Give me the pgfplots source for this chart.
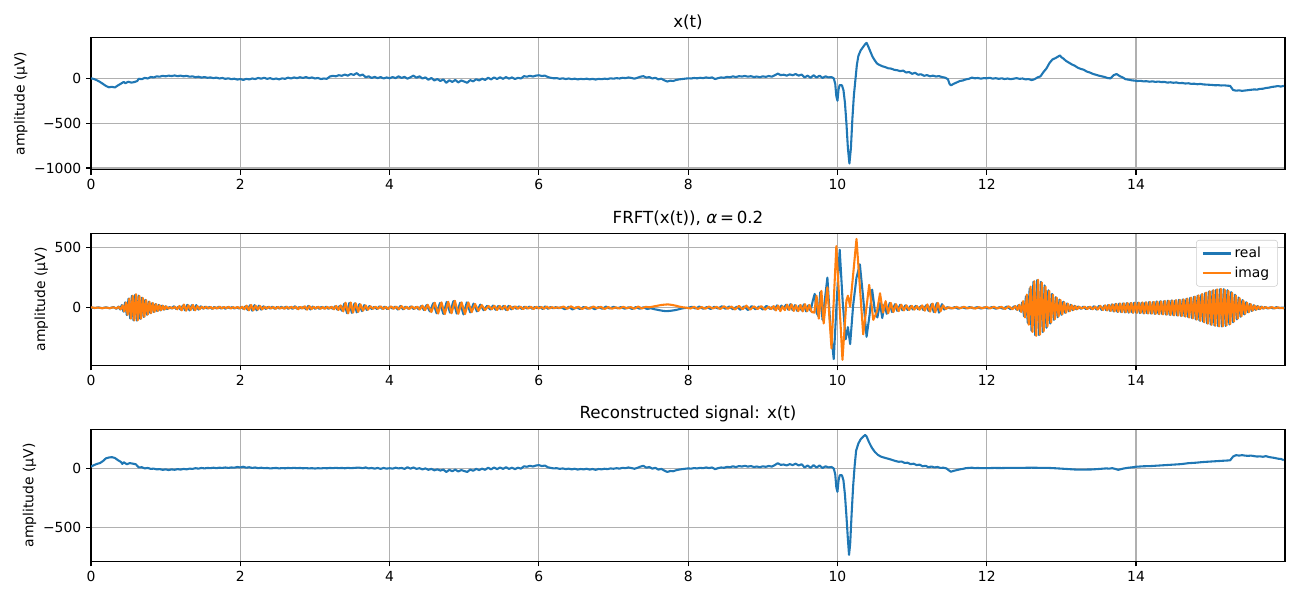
\documentclass[border=0pt]{standalone}
\usepackage{fontspec}
\setmainfont{DejaVu Sans}
\usepackage{pgfplots}
\pgfplotsset{compat=1.18}
\definecolor{mblue}{HTML}{1F77B4}
\definecolor{morange}{HTML}{FF7F0E}
\definecolor{mgrid}{HTML}{B0B0B0}
\definecolor{mleg}{HTML}{CCCCCC}
\pgfplotsset{
  mystyle/.style={
    scale only axis, width=859.7pt, height=95.2pt,
    xmin=0, xmax=15.996,
    xtick={0,2,4,6,8,10,12,14},
    xticklabels={0,2,4,6,8,10,12,14},
    grid=major, major grid style={mgrid, line width=0.8pt},
    axis line style={line width=0.8pt},
    tick style={black, line width=0.8pt},
    tick align=outside, major tick length=3.5pt,
    xtick pos=left, ytick pos=left,
    ticklabel style={font=\fontsize{10}{12}\selectfont},
    label style={font=\fontsize{10}{12}\selectfont},
    ylabel shift=-2pt,
    title style={font=\fontsize{12}{14}\selectfont, yshift=-4pt},
    ylabel={amplitude (µV)},
    every axis plot/.append style={line width=1.5pt, line join=round},
  }
}
\begin{document}
\begin{tikzpicture}
\path[use as bounding box] (0,0) rectangle (936pt,432pt);
% ---------- subplot 1 ----------
\begin{axis}[mystyle, at={(65.52pt,405pt)}, anchor=north west,
  title={x(t)}, ymin=-1019, ymax=455,
  ytick={-1000,-500,0}, yticklabels={−1000,−500,0}]
\addplot[mblue] table[row sep=\\]{x y\\
0.00 0\\ 0.04 -8\\ 0.08 -22\\ 0.12 -40\\ 0.16 -62\\ 0.20 -85\\ 0.24 -100\\ 0.28 -95\\ 0.32 -102\\ 0.36 -80\\
0.40 -60\\ 0.44 -40\\ 0.46 -55\\ 0.50 -38\\ 0.54 -48\\ 0.58 -42\\ 0.62 -30\\ 0.64 -5\\ 0.68 -10\\ 0.72 5\\
0.76 -2\\ 0.80 15\\ 0.84 10\\ 0.88 22\\ 0.92 18\\ 0.96 28\\ 1.00 22\\ 1.04 30\\ 1.08 25\\ 1.12 32\\
1.16 24\\ 1.20 30\\ 1.24 22\\ 1.28 28\\ 1.32 18\\ 1.36 22\\ 1.40 12\\ 1.44 18\\ 1.48 8\\ 1.52 14\\
1.56 6\\ 1.60 10\\ 1.64 2\\ 1.68 8\\ 1.72 -2\\ 1.76 4\\ 1.80 -6\\ 1.84 0\\ 1.88 -10\\ 1.92 -4\\
1.96 -14\\ 2.00 -8\\ 2.04 -18\\ 2.08 -6\\ 2.12 -12\\ 2.16 -2\\ 2.20 -8\\ 2.24 4\\ 2.28 -4\\ 2.32 6\\
2.36 -6\\ 2.40 2\\ 2.44 -10\\ 2.48 -2\\ 2.52 -12\\ 2.56 0\\ 2.60 -6\\ 2.64 8\\ 2.68 -2\\ 2.72 10\\
2.76 2\\ 2.80 12\\ 2.84 4\\ 2.88 14\\ 2.92 2\\ 2.96 10\\ 3.00 -2\\ 3.04 4\\ 3.08 -8\\ 3.12 -2\\
3.16 -6\\ 3.20 20\\ 3.24 28\\ 3.28 22\\ 3.32 35\\ 3.36 28\\ 3.40 42\\ 3.44 30\\ 3.48 48\\ 3.52 38\\
3.56 58\\ 3.60 30\\ 3.64 42\\ 3.68 12\\ 3.72 22\\ 3.76 4\\ 3.80 16\\ 3.84 2\\ 3.88 14\\ 3.92 -2\\
3.96 10\\ 4.00 0\\ 4.04 14\\ 4.08 2\\ 4.12 22\\ 4.16 4\\ 4.20 16\\ 4.24 -4\\ 4.28 12\\ 4.32 30\\
4.36 6\\ 4.40 22\\ 4.44 -2\\ 4.48 10\\ 4.52 -16\\ 4.56 4\\ 4.60 -24\\ 4.64 -8\\ 4.68 -30\\ 4.72 -12\\
4.76 -50\\ 4.80 -22\\ 4.84 -40\\ 4.88 -18\\ 4.92 -46\\ 4.96 -24\\ 5.00 -36\\ 5.04 -50\\ 5.08 -20\\ 5.12 -34\\
5.16 -10\\ 5.20 -24\\ 5.24 -4\\ 5.28 -18\\ 5.32 6\\ 5.36 -12\\ 5.40 10\\ 5.44 -8\\ 5.48 12\\ 5.52 -6\\
5.56 14\\ 5.60 -4\\ 5.64 10\\ 5.68 -8\\ 5.72 6\\ 5.76 -2\\ 5.80 24\\ 5.84 18\\ 5.88 28\\ 5.92 20\\
5.96 30\\ 6.00 34\\ 6.04 26\\ 6.08 30\\ 6.12 14\\ 6.16 6\\ 6.20 0\\ 6.24 2\\ 6.28 -6\\ 6.32 0\\
6.36 -8\\ 6.40 -2\\ 6.44 -10\\ 6.48 -4\\ 6.52 -12\\ 6.56 -6\\ 6.60 -10\\ 6.64 -4\\ 6.68 -12\\ 6.72 -6\\
6.76 -14\\ 6.80 -6\\ 6.84 -10\\ 6.88 -4\\ 6.92 -8\\ 6.96 0\\ 7.00 -4\\ 7.04 2\\ 7.08 -2\\ 7.12 6\\
7.16 2\\ 7.20 10\\ 7.24 4\\ 7.28 -4\\ 7.32 6\\ 7.36 18\\ 7.40 24\\ 7.44 8\\ 7.48 14\\ 7.52 -2\\
7.56 6\\ 7.60 -12\\ 7.64 -4\\ 7.68 -22\\ 7.72 -36\\ 7.76 -26\\ 7.80 -30\\ 7.84 -18\\ 7.88 -12\\ 7.92 -8\\
7.96 -4\\ 8.00 0\\ 8.04 -2\\ 8.08 4\\ 8.12 0\\ 8.16 6\\ 8.20 2\\ 8.24 10\\ 8.28 4\\ 8.32 10\\
8.36 -8\\ 8.40 2\\ 8.44 10\\ 8.48 6\\ 8.52 16\\ 8.56 12\\ 8.60 22\\ 8.64 14\\ 8.68 24\\ 8.72 20\\
8.76 26\\ 8.80 18\\ 8.84 24\\ 8.88 14\\ 8.92 20\\ 8.96 12\\ 9.00 22\\ 9.04 16\\ 9.08 26\\ 9.12 18\\
9.16 34\\ 9.20 52\\ 9.24 36\\ 9.28 40\\ 9.32 30\\ 9.36 44\\ 9.40 34\\ 9.44 48\\ 9.48 30\\ 9.52 42\\
9.56 10\\ 9.60 30\\ 9.64 6\\ 9.68 34\\ 9.72 8\\ 9.76 30\\ 9.80 4\\ 9.84 22\\ 9.88 10\\ 9.92 14\\
9.95 0\\ 9.97 -60\\ 9.985 -200\\ 10.00 -250\\ 10.015 -120\\ 10.03 -75\\ 10.06 -78\\ 10.08 -130\\ 10.10 -270\\ 10.12 -500\\
10.14 -780\\ 10.16 -950\\ 10.18 -780\\ 10.20 -450\\ 10.22 -190\\ 10.24 -20\\ 10.26 150\\ 10.28 250\\ 10.31 310\\ 10.34 345\\
10.37 380\\ 10.39 395\\ 10.41 360\\ 10.44 300\\ 10.47 240\\ 10.50 200\\ 10.53 165\\ 10.56 150\\ 10.60 135\\ 10.64 125\\
10.68 112\\ 10.72 108\\ 10.76 95\\ 10.80 90\\ 10.84 80\\ 10.88 86\\ 10.92 65\\ 10.96 70\\ 11.00 50\\ 11.04 62\\
11.08 40\\ 11.12 45\\ 11.16 28\\ 11.20 36\\ 11.24 22\\ 11.28 30\\ 11.32 20\\ 11.36 25\\ 11.40 14\\ 11.44 8\\
11.48 -10\\ 11.50 -60\\ 11.52 -78\\ 11.56 -60\\ 11.60 -45\\ 11.64 -30\\ 11.68 -24\\ 11.72 -12\\ 11.76 -6\\ 11.80 8\\
11.84 0\\ 11.88 4\\ 11.92 -4\\ 11.96 2\\ 12.00 0\\ 12.04 6\\ 12.08 -4\\ 12.12 2\\ 12.16 -6\\ 12.20 0\\
12.24 -8\\ 12.28 -2\\ 12.32 -10\\ 12.36 -4\\ 12.40 2\\ 12.44 -6\\ 12.48 -2\\ 12.52 -12\\ 12.56 -8\\ 12.60 -20\\
12.64 -10\\ 12.68 10\\ 12.72 22\\ 12.76 70\\ 12.80 110\\ 12.84 170\\ 12.88 210\\ 12.92 225\\ 12.96 245\\ 12.98 255\\
13.00 235\\ 13.03 218\\ 13.06 195\\ 13.10 175\\ 13.14 155\\ 13.18 140\\ 13.22 118\\ 13.26 105\\ 13.30 95\\ 13.34 75\\
13.38 65\\ 13.42 50\\ 13.46 40\\ 13.50 30\\ 13.54 22\\ 13.58 15\\ 13.62 2\\ 13.66 0\\ 13.70 35\\ 13.74 48\\
13.78 25\\ 13.82 10\\ 13.86 -10\\ 13.90 -15\\ 13.94 -22\\ 13.98 -26\\ 14.02 -30\\ 14.06 -28\\ 14.10 -34\\ 14.14 -32\\
14.18 -38\\ 14.22 -34\\ 14.26 -40\\ 14.30 -36\\ 14.34 -42\\ 14.38 -40\\ 14.42 -48\\ 14.46 -44\\ 14.50 -50\\ 14.54 -46\\
14.58 -54\\ 14.62 -52\\ 14.66 -58\\ 14.70 -55\\ 14.74 -62\\ 14.78 -60\\ 14.82 -66\\ 14.86 -62\\ 14.90 -68\\ 14.94 -70\\
14.98 -72\\ 15.02 -74\\ 15.06 -78\\ 15.10 -76\\ 15.14 -80\\ 15.18 -78\\ 15.22 -82\\ 15.26 -84\\ 15.30 -130\\ 15.34 -138\\
15.38 -134\\ 15.42 -140\\ 15.46 -136\\ 15.50 -132\\ 15.54 -128\\ 15.58 -124\\ 15.62 -126\\ 15.66 -118\\ 15.70 -116\\ 15.74 -108\\
15.78 -104\\ 15.82 -96\\ 15.86 -92\\ 15.90 -86\\ 15.94 -92\\ 15.98 -84\\
};
\end{axis}
% ---------- subplot 2 ----------
\begin{axis}[mystyle, at={(65.52pt,264.0pt)}, anchor=north west,
  title={FRFT(x(t)), \textit{α}\,=\,0.2}, ymin=-478, ymax=616,
  ytick={0,500}, yticklabels={0,500},
  legend style={at={(0.994,0.95)}, anchor=north east, draw=mleg, rounded corners=2pt,
    fill=white, fill opacity=0.8, text opacity=1, font=\fontsize{10}{12}\selectfont,
    inner xsep=4pt, inner ysep=3pt, row sep=1pt},
  legend cell align=left,
  legend image code/.code={\draw[#1] (0pt,0pt) -- (20pt,0pt);}]
\addplot[mblue] table[row sep=\\]{x y\\
0.00 2\\ 0.05 -2\\ 0.10 3\\ 0.15 -3\\ 0.20 4\\ 0.25 -4\\ 0.30 6\\ 0.34 -8\\ 0.37 10\\
0.39 -14\\ 0.4125 22\\ 0.435 -32\\ 0.4575 45\\ 0.48 -60\\ 0.5025 75\\ 0.525 -88\\ 0.5475 98\\ 0.57 -104\\ 0.5925 108\\
0.615 -106\\ 0.6375 100\\ 0.66 -92\\ 0.6825 84\\ 0.705 -75\\ 0.7275 66\\ 0.75 -58\\ 0.7725 50\\ 0.795 -44\\ 0.8175 38\\
0.84 -34\\ 0.8625 30\\ 0.885 -27\\ 0.9075 24\\ 0.93 -21\\ 0.9525 18\\ 0.975 -15\\ 0.9975 12\\ 1.02 -10\\ 1.05 6\\
1.08 -6\\ 1.11 12\\ 1.14 -9\\ 1.17 8\\ 1.20 -15\\ 1.23 18\\ 1.26 -21\\ 1.29 24\\ 1.32 -22\\ 1.35 21\\
1.38 -18\\ 1.41 22\\ 1.44 -15\\ 1.47 12\\ 1.50 -8\\ 1.53 9\\ 1.56 -6\\ 1.59 8\\ 1.62 -9\\ 1.65 6\\
1.68 -5\\ 1.71 8\\ 1.74 -6\\ 1.77 5\\ 1.80 -8\\ 1.83 6\\ 1.86 -3\\ 1.89 5\\ 1.92 -6\\ 1.95 3\\
1.98 -5\\ 2.01 6\\ 2.04 -9\\ 2.07 12\\ 2.10 -18\\ 2.13 21\\ 2.16 -24\\ 2.19 22\\ 2.22 -21\\ 2.25 18\\
2.28 -15\\ 2.31 12\\ 2.34 -9\\ 2.37 8\\ 2.40 -6\\ 2.43 9\\ 2.46 -8\\ 2.49 6\\ 2.52 -5\\ 2.55 8\\
2.58 -6\\ 2.61 9\\ 2.64 -8\\ 2.67 6\\ 2.70 -9\\ 2.73 12\\ 2.76 -8\\ 2.79 6\\ 2.82 -5\\ 2.85 9\\
2.88 -12\\ 2.91 15\\ 2.94 -14\\ 2.97 10\\ 3.00 -8\\ 3.03 6\\ 3.06 -9\\ 3.09 8\\ 3.12 -6\\ 3.15 9\\
3.18 -8\\ 3.21 6\\ 3.24 -9\\ 3.27 12\\ 3.30 -15\\
3.33 15\\ 3.36 -24\\ 3.395 35\\ 3.43 -45\\ 3.46 40\\ 3.495 -42\\ 3.53 36\\ 3.56 -38\\ 3.595 30\\ 3.63 -28\\
3.66 22\\ 3.695 -18\\ 3.73 14\\ 3.76 -10\\
3.795 8\\ 3.83 -10\\ 3.865 12\\ 3.90 -8\\ 3.935 10\\ 3.97 -12\\ 4.005 9\\ 4.04 -7\\ 4.075 10\\ 4.11 -14\\
4.145 15\\ 4.18 -12\\ 4.215 10\\ 4.25 -8\\ 4.285 12\\ 4.32 -10\\ 4.355 8\\ 4.39 -12\\ 4.425 15\\ 4.46 -18\\ 4.495 22\\
4.54 -30\\ 4.585 38\\ 4.63 -45\\ 4.675 40\\ 4.72 -50\\ 4.765 48\\ 4.81 -40\\ 4.855 55\\ 4.90 -48\\ 4.945 42\\
4.99 -55\\ 5.035 45\\ 5.08 -38\\ 5.125 35\\ 5.17 -30\\ 5.215 26\\ 5.26 -20\\ 5.305 16\\ 5.35 -14\\
5.385 18\\ 5.42 -16\\ 5.455 14\\ 5.49 -12\\ 5.525 15\\ 5.56 -18\\ 5.595 16\\ 5.63 -12\\ 5.665 10\\ 5.70 -8\\
5.735 12\\ 5.77 -10\\ 5.805 8\\ 5.84 -6\\ 5.875 10\\ 5.91 -8\\ 5.945 6\\ 5.98 -4\\ 6.015 8\\ 6.05 -10\\
6.085 12\\ 6.12 -8\\ 6.155 6\\ 6.19 -4\\ 6.225 5\\ 6.26 -3\\ 6.295 4\\
6.35 -12\\ 6.40 8\\ 6.45 -14\\ 6.50 4\\ 6.55 -10\\ 6.60 6\\ 6.65 -8\\ 6.70 4\\ 6.75 -12\\ 6.80 6\\
6.85 -8\\ 6.90 10\\ 6.95 -6\\ 7.00 8\\ 7.05 -4\\ 7.10 6\\ 7.15 -8\\ 7.20 4\\ 7.25 -10\\ 7.30 6\\
7.35 -8\\ 7.40 4\\ 7.45 -10\\ 7.50 -4\\
7.55 -12\\ 7.60 -18\\ 7.65 -24\\ 7.70 -28\\ 7.75 -26\\ 7.80 -22\\ 7.85 -16\\ 7.90 -8\\ 7.95 -2\\ 8.00 0\\
8.05 8\\ 8.10 -6\\ 8.15 10\\ 8.20 -8\\ 8.25 6\\ 8.30 -10\\ 8.35 8\\ 8.40 -6\\ 8.45 12\\ 8.50 -8\\
8.55 10\\ 8.60 -12\\ 8.65 8\\ 8.70 -16\\ 8.75 12\\ 8.80 -18\\ 8.85 14\\ 8.90 -12\\ 8.95 10\\ 9.00 -14\\
9.05 16\\ 9.10 -10\\
9.13 8\\ 9.16 -15\\ 9.19 20\\ 9.22 -12\\ 9.25 18\\ 9.28 -8\\ 9.31 25\\ 9.34 -15\\ 9.37 30\\ 9.40 -20\\
9.43 22\\ 9.46 -25\\ 9.49 18\\ 9.52 -22\\ 9.55 28\\ 9.58 -30\\ 9.61 20\\ 9.64 -25\\
9.67 60\\ 9.695 115\\ 9.72 -40\\ 9.745 -70\\ 9.77 130\\ 9.80 -100\\ 9.83 60\\ 9.865 250\\ 9.905 -150\\ 9.95 -425\\
9.99 60\\ 10.03 480\\ 10.07 50\\ 10.11 -260\\ 10.14 -160\\ 10.17 -300\\ 10.21 20\\ 10.255 250\\ 10.30 360\\ 10.345 80\\
10.39 -240\\ 10.43 -60\\ 10.465 150\\ 10.50 -20\\ 10.535 -80\\ 10.57 40\\ 10.60 -85\\
10.63 30\\ 10.66 -50\\ 10.70 40\\ 10.73 -35\\ 10.77 30\\ 10.80 -25\\ 10.84 25\\ 10.87 -20\\ 10.91 20\\ 10.94 -18\\
10.98 15\\ 11.01 -14\\ 11.05 16\\ 11.08 -12\\ 11.12 14\\ 11.15 -18\\ 11.19 22\\ 11.22 -25\\ 11.26 30\\ 11.29 -35\\
11.33 38\\ 11.36 -40\\ 11.40 30\\ 11.43 -15\\ 11.47 5\\
11.52 -6\\ 11.57 5\\ 11.62 -8\\ 11.67 4\\ 11.72 -5\\ 11.77 6\\ 11.82 -4\\ 11.87 5\\ 11.92 -6\\ 11.97 4\\
12.02 -5\\ 12.07 6\\ 12.12 -8\\ 12.17 5\\ 12.22 -8\\ 12.27 10\\ 12.32 -12\\ 12.37 12\\
12.40 -15\\ 12.425 22\\ 12.45 -30\\ 12.475 45\\ 12.50 -70\\ 12.525 95\\ 12.55 -125\\ 12.575 160\\ 12.60 -190\\ 12.625 215\\
12.65 -228\\ 12.675 230\\ 12.70 -225\\ 12.725 215\\ 12.75 -200\\ 12.775 185\\ 12.80 -165\\ 12.825 145\\ 12.85 -130\\ 12.875 115\\
12.90 -100\\ 12.925 88\\ 12.95 -78\\ 12.975 68\\ 13.00 -58\\ 13.025 50\\ 13.05 -42\\ 13.075 36\\ 13.10 -30\\ 13.125 25\\
13.15 -20\\ 13.175 16\\ 13.20 -12\\ 13.225 10\\
13.26 -8\\ 13.295 10\\ 13.33 -12\\ 13.365 8\\ 13.40 -10\\ 13.435 12\\ 13.47 -14\\ 13.505 16\\ 13.54 -18\\ 13.575 18\\
13.60 -20\\ 13.625 22\\ 13.65 -25\\ 13.675 28\\ 13.70 -30\\ 13.725 32\\ 13.75 -34\\ 13.775 35\\ 13.80 -36\\ 13.825 36\\
13.85 -38\\ 13.875 38\\ 13.90 -40\\ 13.925 38\\ 13.95 -40\\ 13.975 42\\ 14.00 -40\\ 14.025 42\\ 14.05 -44\\ 14.075 42\\
14.10 -45\\ 14.125 44\\ 14.15 -46\\ 14.175 48\\ 14.20 -48\\ 14.225 46\\ 14.25 -50\\ 14.275 52\\ 14.30 -50\\ 14.325 54\\
14.35 -52\\ 14.375 55\\ 14.40 -56\\ 14.425 58\\ 14.45 -58\\ 14.475 60\\ 14.50 -62\\ 14.525 60\\ 14.55 -64\\ 14.575 66\\
14.60 -66\\ 14.625 68\\ 14.65 -70\\ 14.675 74\\ 14.70 -78\\ 14.725 82\\ 14.75 -86\\ 14.775 90\\ 14.80 -95\\ 14.825 100\\
14.85 -105\\ 14.875 110\\ 14.90 -116\\ 14.925 122\\ 14.95 -128\\ 14.975 134\\ 15.00 -138\\ 15.025 142\\ 15.05 -146\\ 15.075 150\\
15.10 -152\\ 15.125 155\\ 15.15 -155\\ 15.175 154\\ 15.20 -150\\ 15.225 145\\ 15.25 -138\\ 15.275 130\\ 15.30 -120\\ 15.325 108\\
15.35 -96\\ 15.375 85\\ 15.40 -74\\ 15.425 64\\ 15.45 -55\\ 15.475 46\\ 15.50 -38\\ 15.525 32\\ 15.55 -26\\ 15.575 21\\
15.60 -17\\ 15.625 14\\ 15.65 -11\\ 15.675 9\\ 15.70 -7\\ 15.725 6\\
15.76 -5\\ 15.80 4\\ 15.84 -6\\ 15.88 5\\ 15.92 -3\\ 15.96 2\\ 15.99 -1\\
};
\addlegendentry{real}
\addplot[morange] table[row sep=\\]{x y\\
0.00 4\\ 0.05 -1\\ 0.10 2\\ 0.15 -4\\ 0.20 2\\ 0.25 -3\\ 0.30 4\\ 0.34 -5\\ 0.37 8\\
0.40 -12\\ 0.4235 20\\ 0.446 -30\\ 0.4685 44\\ 0.491 -58\\ 0.5135 76\\ 0.536 -90\\ 0.5585 100\\ 0.581 -104\\ 0.6035 112\\
0.626 -104\\ 0.6485 98\\ 0.671 -90\\ 0.6935 82\\ 0.716 -74\\ 0.7385 64\\ 0.761 -56\\ 0.7835 50\\ 0.806 -44\\ 0.8285 40\\
0.851 -34\\ 0.8735 30\\ 0.896 -26\\ 0.9185 22\\ 0.941 -20\\ 0.9635 17\\ 0.986 -14\\ 1.0085 11\\ 1.035 -8\\ 1.065 5\\
1.095 -5\\ 1.125 9\\ 1.155 -12\\ 1.185 15\\ 1.215 -21\\ 1.245 27\\ 1.275 -24\\ 1.305 21\\ 1.335 -18\\ 1.365 24\\
1.395 -21\\ 1.425 15\\ 1.455 -12\\ 1.485 9\\ 1.515 -6\\ 1.545 8\\ 1.575 -5\\ 1.605 6\\ 1.635 -8\\ 1.665 5\\
1.695 -6\\ 1.725 9\\ 1.755 -5\\ 1.785 6\\ 1.815 -3\\ 1.845 8\\ 1.875 -6\\ 1.905 5\\ 1.935 -3\\ 1.965 6\\
1.995 -5\\ 2.025 9\\ 2.055 -12\\ 2.085 18\\ 2.115 -21\\ 2.145 24\\ 2.175 -21\\ 2.205 18\\ 2.235 -15\\ 2.265 14\\
2.295 -12\\ 2.325 9\\ 2.355 -6\\ 2.385 8\\ 2.415 -5\\ 2.445 6\\ 2.475 -9\\ 2.505 8\\ 2.535 -6\\ 2.565 5\\
2.595 -8\\ 2.625 9\\ 2.655 -6\\ 2.685 8\\ 2.715 -5\\ 2.745 9\\ 2.775 -12\\ 2.805 8\\ 2.835 -6\\ 2.865 12\\
2.895 -15\\ 2.925 14\\ 2.955 -10\\ 2.985 8\\ 3.015 -6\\ 3.045 9\\ 3.075 -8\\ 3.105 6\\ 3.135 -9\\ 3.165 8\\
3.195 -6\\ 3.225 9\\ 3.255 -12\\ 3.285 15\\ 3.315 -18\\
3.345 20\\ 3.38 -30\\ 3.41 42\\ 3.445 -46\\ 3.48 44\\ 3.51 -40\\ 3.545 38\\ 3.58 -34\\ 3.61 28\\ 3.645 -24\\
3.68 20\\ 3.71 -16\\ 3.745 12\\ 3.78 -9\\
3.81 10\\ 3.845 -8\\ 3.88 12\\ 3.915 -10\\ 3.95 8\\ 3.985 -10\\ 4.02 12\\ 4.055 -8\\ 4.09 10\\ 4.125 -12\\
4.16 14\\ 4.195 -10\\ 4.23 8\\ 4.265 -10\\ 4.30 12\\ 4.335 -8\\ 4.37 10\\ 4.405 -14\\ 4.44 18\\ 4.475 -20\\ 4.51 25\\
4.56 -35\\ 4.605 42\\ 4.65 -48\\ 4.695 45\\ 4.74 -52\\ 4.785 50\\ 4.83 -45\\ 4.875 58\\ 4.92 -50\\ 4.965 45\\
5.01 -52\\ 5.055 44\\ 5.10 -36\\ 5.145 32\\ 5.19 -26\\ 5.235 22\\ 5.28 -18\\ 5.325 15\\ 5.37 -12\\
5.405 16\\ 5.44 -18\\ 5.475 15\\ 5.51 -12\\ 5.545 16\\ 5.58 -20\\ 5.615 14\\ 5.65 -10\\ 5.685 12\\ 5.72 -8\\
5.755 10\\ 5.79 -12\\ 5.825 9\\ 5.86 -6\\ 5.895 8\\ 5.93 -10\\ 5.965 8\\ 6.00 -5\\ 6.035 6\\ 6.07 -8\\
6.105 10\\ 6.14 -6\\ 6.175 5\\ 6.21 -3\\ 6.245 4\\ 6.28 -2\\
6.33 10\\ 6.38 -8\\ 6.43 12\\ 6.48 -6\\ 6.53 8\\ 6.58 -10\\ 6.63 6\\ 6.68 -8\\ 6.73 10\\ 6.78 -4\\
6.83 8\\ 6.88 -10\\ 6.93 6\\ 6.98 -8\\ 7.03 4\\ 7.08 -6\\ 7.13 8\\ 7.18 -4\\ 7.23 6\\ 7.28 -8\\
7.33 10\\ 7.38 -6\\ 7.43 8\\ 7.48 4\\
7.53 10\\ 7.58 16\\ 7.63 22\\ 7.68 26\\ 7.73 28\\ 7.78 24\\ 7.83 18\\ 7.88 10\\ 7.93 4\\ 7.98 0\\
8.03 -6\\ 8.08 8\\ 8.13 -10\\ 8.18 6\\ 8.23 -8\\ 8.28 10\\ 8.33 -6\\ 8.38 8\\ 8.43 -10\\ 8.48 12\\
8.53 -8\\ 8.58 10\\ 8.63 -14\\ 8.68 16\\ 8.73 -12\\ 8.78 18\\ 8.83 -16\\ 8.88 12\\ 8.93 -10\\ 8.98 14\\
9.03 -16\\ 9.08 10\\
9.115 -10\\ 9.145 14\\ 9.175 -22\\ 9.205 18\\ 9.235 -28\\ 9.265 12\\ 9.295 -20\\ 9.325 26\\ 9.355 -18\\ 9.385 28\\
9.415 -26\\ 9.445 20\\ 9.475 -28\\ 9.505 24\\ 9.535 -30\\ 9.565 30\\ 9.595 -28\\ 9.625 24\\ 9.655 -35\\
9.69 -40\\ 9.72 100\\ 9.75 -90\\ 9.785 140\\ 9.815 -130\\ 9.865 170\\ 9.92 -335\\ 9.985 510\\ 10.067 -430\\ 10.12 60\\
10.14 100\\ 10.17 10\\ 10.255 570\\ 10.345 -220\\ 10.425 190\\ 10.48 -100\\ 10.53 -30\\ 10.57 120\\
10.61 -40\\ 10.645 55\\ 10.68 -45\\ 10.715 40\\ 10.75 -35\\ 10.785 30\\ 10.82 -28\\ 10.855 25\\ 10.89 -22\\ 10.925 20\\
10.96 -18\\ 10.995 16\\ 11.03 -15\\ 11.065 14\\ 11.10 -16\\ 11.135 20\\ 11.17 -24\\ 11.205 28\\ 11.24 -32\\ 11.275 35\\
11.31 -38\\ 11.345 40\\ 11.38 -30\\ 11.415 20\\ 11.45 -10\\ 11.49 4\\
11.545 -5\\ 11.595 7\\ 11.645 -4\\ 11.695 8\\ 11.745 -5\\ 11.795 4\\ 11.845 -7\\ 11.895 5\\ 11.945 -4\\ 11.995 7\\
12.045 -5\\ 12.095 8\\ 12.145 -6\\ 12.195 8\\ 12.245 -10\\ 12.295 12\\ 12.345 -12\\ 12.385 14\\
12.4125 -18\\ 12.4375 25\\ 12.4625 -35\\ 12.4875 55\\ 12.5125 -80\\ 12.5375 110\\ 12.5625 -140\\ 12.5875 175\\ 12.6125 -200\\ 12.6375 220\\
12.6625 -232\\ 12.6875 232\\ 12.7125 -222\\ 12.7375 210\\ 12.7625 -195\\ 12.7875 175\\ 12.8125 -155\\ 12.8375 140\\ 12.8625 -122\\ 12.8875 108\\
12.9125 -95\\ 12.9375 84\\ 12.9625 -72\\ 12.9875 64\\ 13.0125 -55\\ 13.0375 46\\ 13.0625 -40\\ 13.0875 34\\ 13.1125 -28\\ 13.1375 22\\
13.1625 -18\\ 13.1875 14\\ 13.2125 -11\\ 13.2375 8\\
13.2775 -6\\ 13.3125 9\\ 13.3475 -10\\ 13.3825 10\\ 13.4175 -12\\ 13.4525 10\\ 13.4875 -14\\ 13.5225 16\\ 13.5575 -18\\ 13.5875 20\\
13.6125 -22\\ 13.6375 24\\ 13.6625 -26\\ 13.6875 28\\ 13.7125 -30\\ 13.7375 32\\ 13.7625 -33\\ 13.7875 35\\ 13.8125 -36\\ 13.8375 37\\
13.8625 -38\\ 13.8875 39\\ 13.9125 -38\\ 13.9375 40\\ 13.9625 -41\\ 13.9875 40\\ 14.0125 -42\\ 14.0375 43\\ 14.0625 -42\\ 14.0875 44\\
14.1125 -46\\ 14.1375 45\\ 14.1625 -47\\ 14.1875 48\\ 14.2125 -48\\ 14.2375 49\\ 14.2625 -51\\ 14.2875 50\\ 14.3125 -52\\ 14.3375 53\\
14.3625 -54\\ 14.3875 56\\ 14.4125 -57\\ 14.4375 58\\ 14.4625 -60\\ 14.4875 60\\ 14.5125 -62\\ 14.5375 63\\ 14.5625 -65\\ 14.5875 66\\
14.6125 -68\\ 14.6375 70\\ 14.6625 -73\\ 14.6875 76\\ 14.7125 -80\\ 14.7375 84\\ 14.7625 -88\\ 14.7875 93\\ 14.8125 -98\\ 14.8375 103\\
14.8625 -108\\ 14.8875 114\\ 14.9125 -120\\ 14.9375 126\\ 14.9625 -132\\ 14.9875 137\\ 15.0125 -141\\ 15.0375 145\\ 15.0625 -149\\ 15.0875 152\\
15.1125 -154\\ 15.1375 156\\ 15.1625 -154\\ 15.1875 150\\ 15.2125 -146\\ 15.2375 140\\ 15.2625 -134\\ 15.2875 124\\ 15.3125 -114\\ 15.3375 102\\
15.3625 -90\\ 15.3875 80\\ 15.4125 -70\\ 15.4375 60\\ 15.4625 -50\\ 15.4875 42\\ 15.5125 -36\\ 15.5375 30\\ 15.5625 -24\\ 15.5875 19\\
15.6125 -15\\ 15.6375 12\\ 15.6625 -10\\ 15.6875 8\\ 15.7125 -6\\ 15.7375 5\\
15.78 -4\\ 15.82 5\\ 15.86 -4\\ 15.90 3\\ 15.94 -2\\ 15.98 -4\\
};
\addlegendentry{imag}
\end{axis}
% ---------- subplot 3 ----------
\begin{axis}[mystyle, at={(65.52pt,122.9pt)}, anchor=north west,
  title={Reconstructed signal: x(t)}, ymin=-786, ymax=330,
  ytick={-500,0}, yticklabels={−500,0}]
\addplot[mblue] table[row sep=\\]{x y\\
0.00 15\\ 0.04 28\\ 0.08 38\\ 0.12 45\\ 0.16 62\\ 0.20 85\\ 0.24 92\\ 0.28 95\\ 0.32 88\\ 0.36 70\\
0.40 55\\ 0.42 38\\ 0.44 52\\ 0.48 35\\ 0.52 45\\ 0.56 40\\ 0.60 35\\ 0.64 8\\ 0.68 10\\ 0.72 0\\
0.76 4\\ 0.80 -4\\ 0.84 -2\\ 0.88 -8\\ 0.92 -6\\ 0.96 -12\\ 1.00 -8\\ 1.04 -14\\ 1.08 -8\\ 1.12 -12\\
1.16 -6\\ 1.20 -10\\ 1.24 -4\\ 1.28 -8\\ 1.32 -2\\ 1.36 -4\\ 1.40 2\\ 1.44 -2\\ 1.48 4\\ 1.52 0\\
1.56 4\\ 1.60 2\\ 1.64 6\\ 1.68 2\\ 1.72 6\\ 1.76 4\\ 1.80 8\\ 1.84 4\\ 1.88 8\\ 1.92 6\\
1.96 12\\ 2.00 8\\ 2.04 14\\ 2.08 6\\ 2.12 10\\ 2.16 4\\ 2.20 8\\ 2.24 2\\ 2.28 6\\ 2.32 2\\
2.36 4\\ 2.40 0\\ 2.44 2\\ 2.48 4\\ 2.52 0\\ 2.56 3\\ 2.60 1\\ 2.64 4\\ 2.68 2\\ 2.72 5\\
2.76 2\\ 2.80 4\\ 2.84 1\\ 2.88 3\\ 2.92 0\\ 2.96 2\\ 3.00 -1\\ 3.04 2\\ 3.08 0\\ 3.12 3\\
3.16 1\\ 3.20 4\\ 3.24 2\\ 3.28 5\\ 3.32 2\\ 3.36 4\\ 3.40 1\\ 3.44 5\\ 3.48 2\\ 3.52 4\\
3.56 6\\ 3.60 6\\ 3.64 2\\ 3.68 8\\ 3.72 0\\ 3.76 4\\ 3.80 -2\\ 3.84 4\\ 3.88 -4\\ 3.92 4\\
3.96 -2\\ 4.00 2\\ 4.04 -2\\ 4.08 6\\ 4.12 0\\ 4.16 4\\ 4.20 -4\\ 4.24 10\\ 4.28 -2\\ 4.32 8\\
4.36 -4\\ 4.40 2\\ 4.44 -8\\ 4.48 0\\ 4.52 -12\\ 4.56 -4\\ 4.60 -16\\ 4.64 -8\\ 4.68 -18\\ 4.72 -10\\
4.76 -30\\ 4.80 -12\\ 4.84 -24\\ 4.88 -10\\ 4.92 -26\\ 4.96 -14\\ 5.00 -22\\ 5.04 -30\\ 5.08 -10\\ 5.12 -20\\
5.16 -4\\ 5.20 -14\\ 5.24 -2\\ 5.28 -12\\ 5.32 6\\ 5.36 -8\\ 5.40 8\\ 5.44 -6\\ 5.48 8\\ 5.52 -4\\
5.56 10\\ 5.60 -4\\ 5.64 6\\ 5.68 -6\\ 5.72 6\\ 5.76 -2\\ 5.80 18\\ 5.84 14\\ 5.88 22\\ 5.92 16\\
5.96 24\\ 6.00 28\\ 6.04 20\\ 6.08 24\\ 6.12 10\\ 6.16 4\\ 6.20 0\\ 6.24 2\\ 6.28 -4\\ 6.32 0\\
6.36 -6\\ 6.40 -2\\ 6.44 -8\\ 6.48 -3\\ 6.52 -10\\ 6.56 -5\\ 6.60 -8\\ 6.64 -3\\ 6.68 -10\\ 6.72 -5\\
6.76 -12\\ 6.80 -5\\ 6.84 -8\\ 6.88 -3\\ 6.92 -6\\ 6.96 0\\ 7.00 -3\\ 7.04 2\\ 7.08 -2\\ 7.12 5\\
7.16 2\\ 7.20 8\\ 7.24 3\\ 7.28 -3\\ 7.32 5\\ 7.36 15\\ 7.40 22\\ 7.44 6\\ 7.48 12\\ 7.52 -2\\
7.56 5\\ 7.60 -10\\ 7.64 -4\\ 7.68 -18\\ 7.72 -30\\ 7.76 -22\\ 7.80 -24\\ 7.84 -15\\ 7.88 -10\\ 7.92 -6\\
7.96 -3\\ 8.00 0\\ 8.04 -2\\ 8.08 3\\ 8.12 0\\ 8.16 5\\ 8.20 2\\ 8.24 8\\ 8.28 3\\ 8.32 8\\
8.36 -6\\ 8.40 2\\ 8.44 8\\ 8.48 5\\ 8.52 13\\ 8.56 10\\ 8.60 18\\ 8.64 11\\ 8.68 20\\ 8.72 16\\
8.76 22\\ 8.80 15\\ 8.84 20\\ 8.88 12\\ 8.92 16\\ 8.96 10\\ 9.00 18\\ 9.04 13\\ 9.08 21\\ 9.12 15\\
9.16 28\\ 9.20 44\\ 9.24 30\\ 9.28 33\\ 9.32 25\\ 9.36 36\\ 9.40 28\\ 9.44 40\\ 9.48 25\\ 9.52 35\\
9.56 8\\ 9.60 25\\ 9.64 5\\ 9.68 28\\ 9.72 7\\ 9.76 25\\ 9.80 3\\ 9.84 18\\ 9.88 8\\ 9.92 12\\
9.95 0\\ 9.97 -50\\ 9.985 -160\\ 10.00 -198\\ 10.015 -100\\ 10.03 -58\\ 10.06 -58\\ 10.08 -100\\ 10.10 -220\\ 10.12 -400\\
10.14 -600\\ 10.155 -730\\ 10.17 -640\\ 10.19 -380\\ 10.21 -150\\ 10.23 20\\ 10.25 150\\ 10.28 210\\ 10.31 245\\ 10.34 265\\
10.37 282\\ 10.39 270\\ 10.42 225\\ 10.46 175\\ 10.50 140\\ 10.54 115\\ 10.58 100\\ 10.62 92\\ 10.66 85\\ 10.70 78\\
10.74 70\\ 10.78 62\\ 10.82 56\\ 10.86 58\\ 10.90 46\\ 10.94 48\\ 10.98 36\\ 11.02 40\\ 11.06 28\\ 11.10 32\\
11.14 18\\ 11.18 22\\ 11.22 10\\ 11.26 16\\ 11.30 8\\ 11.34 12\\ 11.38 4\\ 11.42 6\\ 11.46 0\\ 11.50 -20\\
11.52 -28\\ 11.56 -20\\ 11.60 -14\\ 11.64 -8\\ 11.68 -4\\ 11.72 2\\ 11.76 4\\ 11.80 6\\ 11.84 2\\ 11.88 4\\
11.92 2\\ 12.00 2\\ 12.10 4\\ 12.20 3\\ 12.30 5\\ 12.40 4\\ 12.50 5\\ 12.60 6\\ 12.70 5\\ 12.80 5\\
12.90 2\\ 13.00 -2\\ 13.10 -6\\ 13.20 -10\\ 13.30 -10\\ 13.40 -9\\ 13.50 -5\\ 13.60 0\\ 13.64 -2\\ 13.68 2\\
13.72 -4\\ 13.76 -12\\ 13.80 -6\\ 13.84 0\\ 13.90 6\\ 13.96 10\\ 14.00 14\\ 14.10 18\\ 14.20 20\\ 14.30 24\\
14.40 28\\ 14.50 32\\ 14.60 36\\ 14.70 44\\ 14.80 48\\ 14.90 54\\ 15.00 58\\ 15.10 62\\ 15.20 66\\ 15.26 68\\
15.30 100\\ 15.34 112\\ 15.38 108\\ 15.42 112\\ 15.46 108\\ 15.50 106\\ 15.54 108\\ 15.58 104\\ 15.62 100\\ 15.66 102\\
15.70 98\\ 15.74 104\\ 15.78 96\\ 15.82 92\\ 15.86 88\\ 15.90 82\\ 15.94 80\\ 15.98 70\\
};
\end{axis}
\end{tikzpicture}
\end{document}
